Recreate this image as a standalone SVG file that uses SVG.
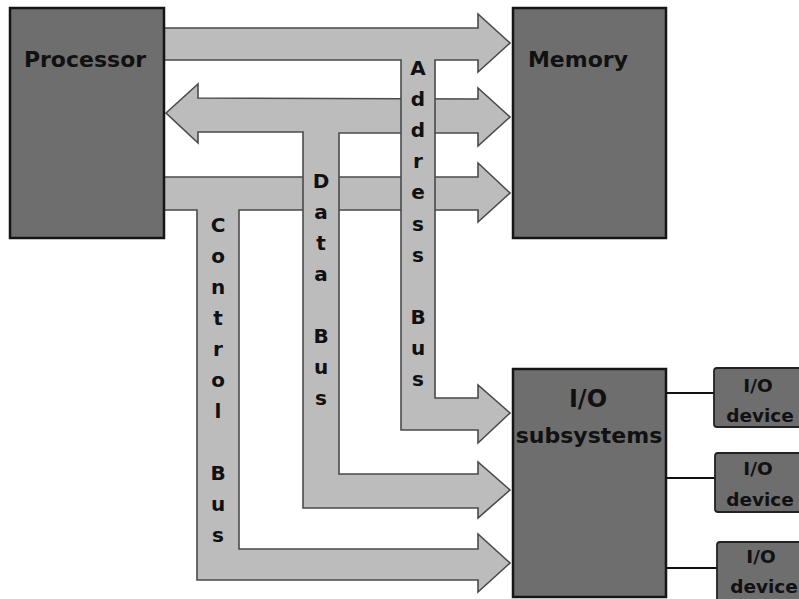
<svg xmlns="http://www.w3.org/2000/svg" width="799" height="599" viewBox="0 0 799 599">
<style>
.bus{fill:#bcbcbc;stroke:#4a4a4a;stroke-width:1.6;stroke-linejoin:miter}
.box{fill:#6e6e6e;stroke:#151515;stroke-width:2.5}
.dev{fill:#6e6e6e;stroke:#222;stroke-width:1.8}
.lbl{font-family:"DejaVu Sans","Liberation Sans",sans-serif;font-weight:bold;fill:#111;text-anchor:middle}
.big{font-size:22px}
.io{font-size:24px}
.bl{font-size:20px}
.sm{font-size:18.5px}
.wire{stroke:#111;stroke-width:2.2;fill:none}
</style>
<rect width="799" height="599" fill="#ffffff"/>
<g id="connectors">
  <path id="control-bus" class="bus" d="M164,177 L478,177 L478,163 L510,193 L478,222 L478,210 L239,210 L239,549 L478,549 L478,534 L510,563 L478,592 L478,580 L197,580 L197,210 L164,210 Z"/>
  <path id="data-bus" class="bus" d="M166,113 L198,84 L198,98 L478,99 L478,88 L510,117 L478,146 L478,133 L339,133 L339,474 L478,474 L478,462 L510,490 L478,518 L478,508 L303,508 L303,132 L198,132 L198,143 Z"/>
  <path id="address-bus" class="bus" d="M164,28 L478,28 L478,14 L510,43 L478,72 L478,60 L435,60 L435,398 L478,398 L478,385 L510,413 L478,443 L478,430 L401,430 L401,60 L164,60 Z"/>
  <line class="wire" x1="666" y1="393" x2="714" y2="393"/>
  <line class="wire" x1="666" y1="478" x2="715" y2="478"/>
  <line class="wire" x1="666" y1="568" x2="717" y2="568"/>
</g>
<g id="bus-labels">
  <text class="lbl bl"><tspan x="218" y="232">C</tspan><tspan x="218" y="263">o</tspan><tspan x="218" y="294">n</tspan><tspan x="218" y="325">t</tspan><tspan x="218" y="356">r</tspan><tspan x="218" y="387">o</tspan><tspan x="218" y="418">l</tspan><tspan x="218" y="480">B</tspan><tspan x="218" y="511">u</tspan><tspan x="218" y="542">s</tspan></text>
  <text class="lbl bl"><tspan x="321" y="188">D</tspan><tspan x="321" y="219">a</tspan><tspan x="321" y="250">t</tspan><tspan x="321" y="281">a</tspan><tspan x="321" y="343">B</tspan><tspan x="321" y="374">u</tspan><tspan x="321" y="405">s</tspan></text>
  <text class="lbl bl"><tspan x="418" y="75">A</tspan><tspan x="418" y="106">d</tspan><tspan x="418" y="137">d</tspan><tspan x="418" y="168">r</tspan><tspan x="418" y="199">e</tspan><tspan x="418" y="231">s</tspan><tspan x="418" y="262">s</tspan><tspan x="418" y="324">B</tspan><tspan x="418" y="355">u</tspan><tspan x="418" y="386">s</tspan></text>
</g>
<g id="processor">
  <rect class="box" x="10" y="8" width="154" height="230"/>
  <text class="lbl big" x="85" y="67">Processor</text>
</g>
<g id="memory">
  <rect class="box" x="513" y="8" width="153" height="230"/>
  <text class="lbl big" x="578" y="67">Memory</text>
</g>
<g id="io-subsystems">
  <rect class="box" x="513" y="369" width="153" height="228"/>
  <text class="lbl io" x="588" y="407">I/O</text>
  <text class="lbl big" x="589" y="443">subsystems</text>
</g>
<g id="io-device-1">
  <rect class="dev" x="714" y="368" width="100" height="59" rx="3"/>
  <text class="lbl sm" x="758" y="392">I/O</text>
  <text class="lbl sm" x="760" y="422">device</text>
</g>
<g id="io-device-2">
  <rect class="dev" x="715" y="453" width="100" height="59" rx="3"/>
  <text class="lbl sm" x="758" y="475">I/O</text>
  <text class="lbl sm" x="760" y="506">device</text>
</g>
<g id="io-device-3">
  <rect class="dev" x="717" y="542" width="100" height="70" rx="3"/>
  <text class="lbl sm" x="761" y="563">I/O</text>
  <text class="lbl sm" x="764" y="593">device</text>
</g>
</svg>
